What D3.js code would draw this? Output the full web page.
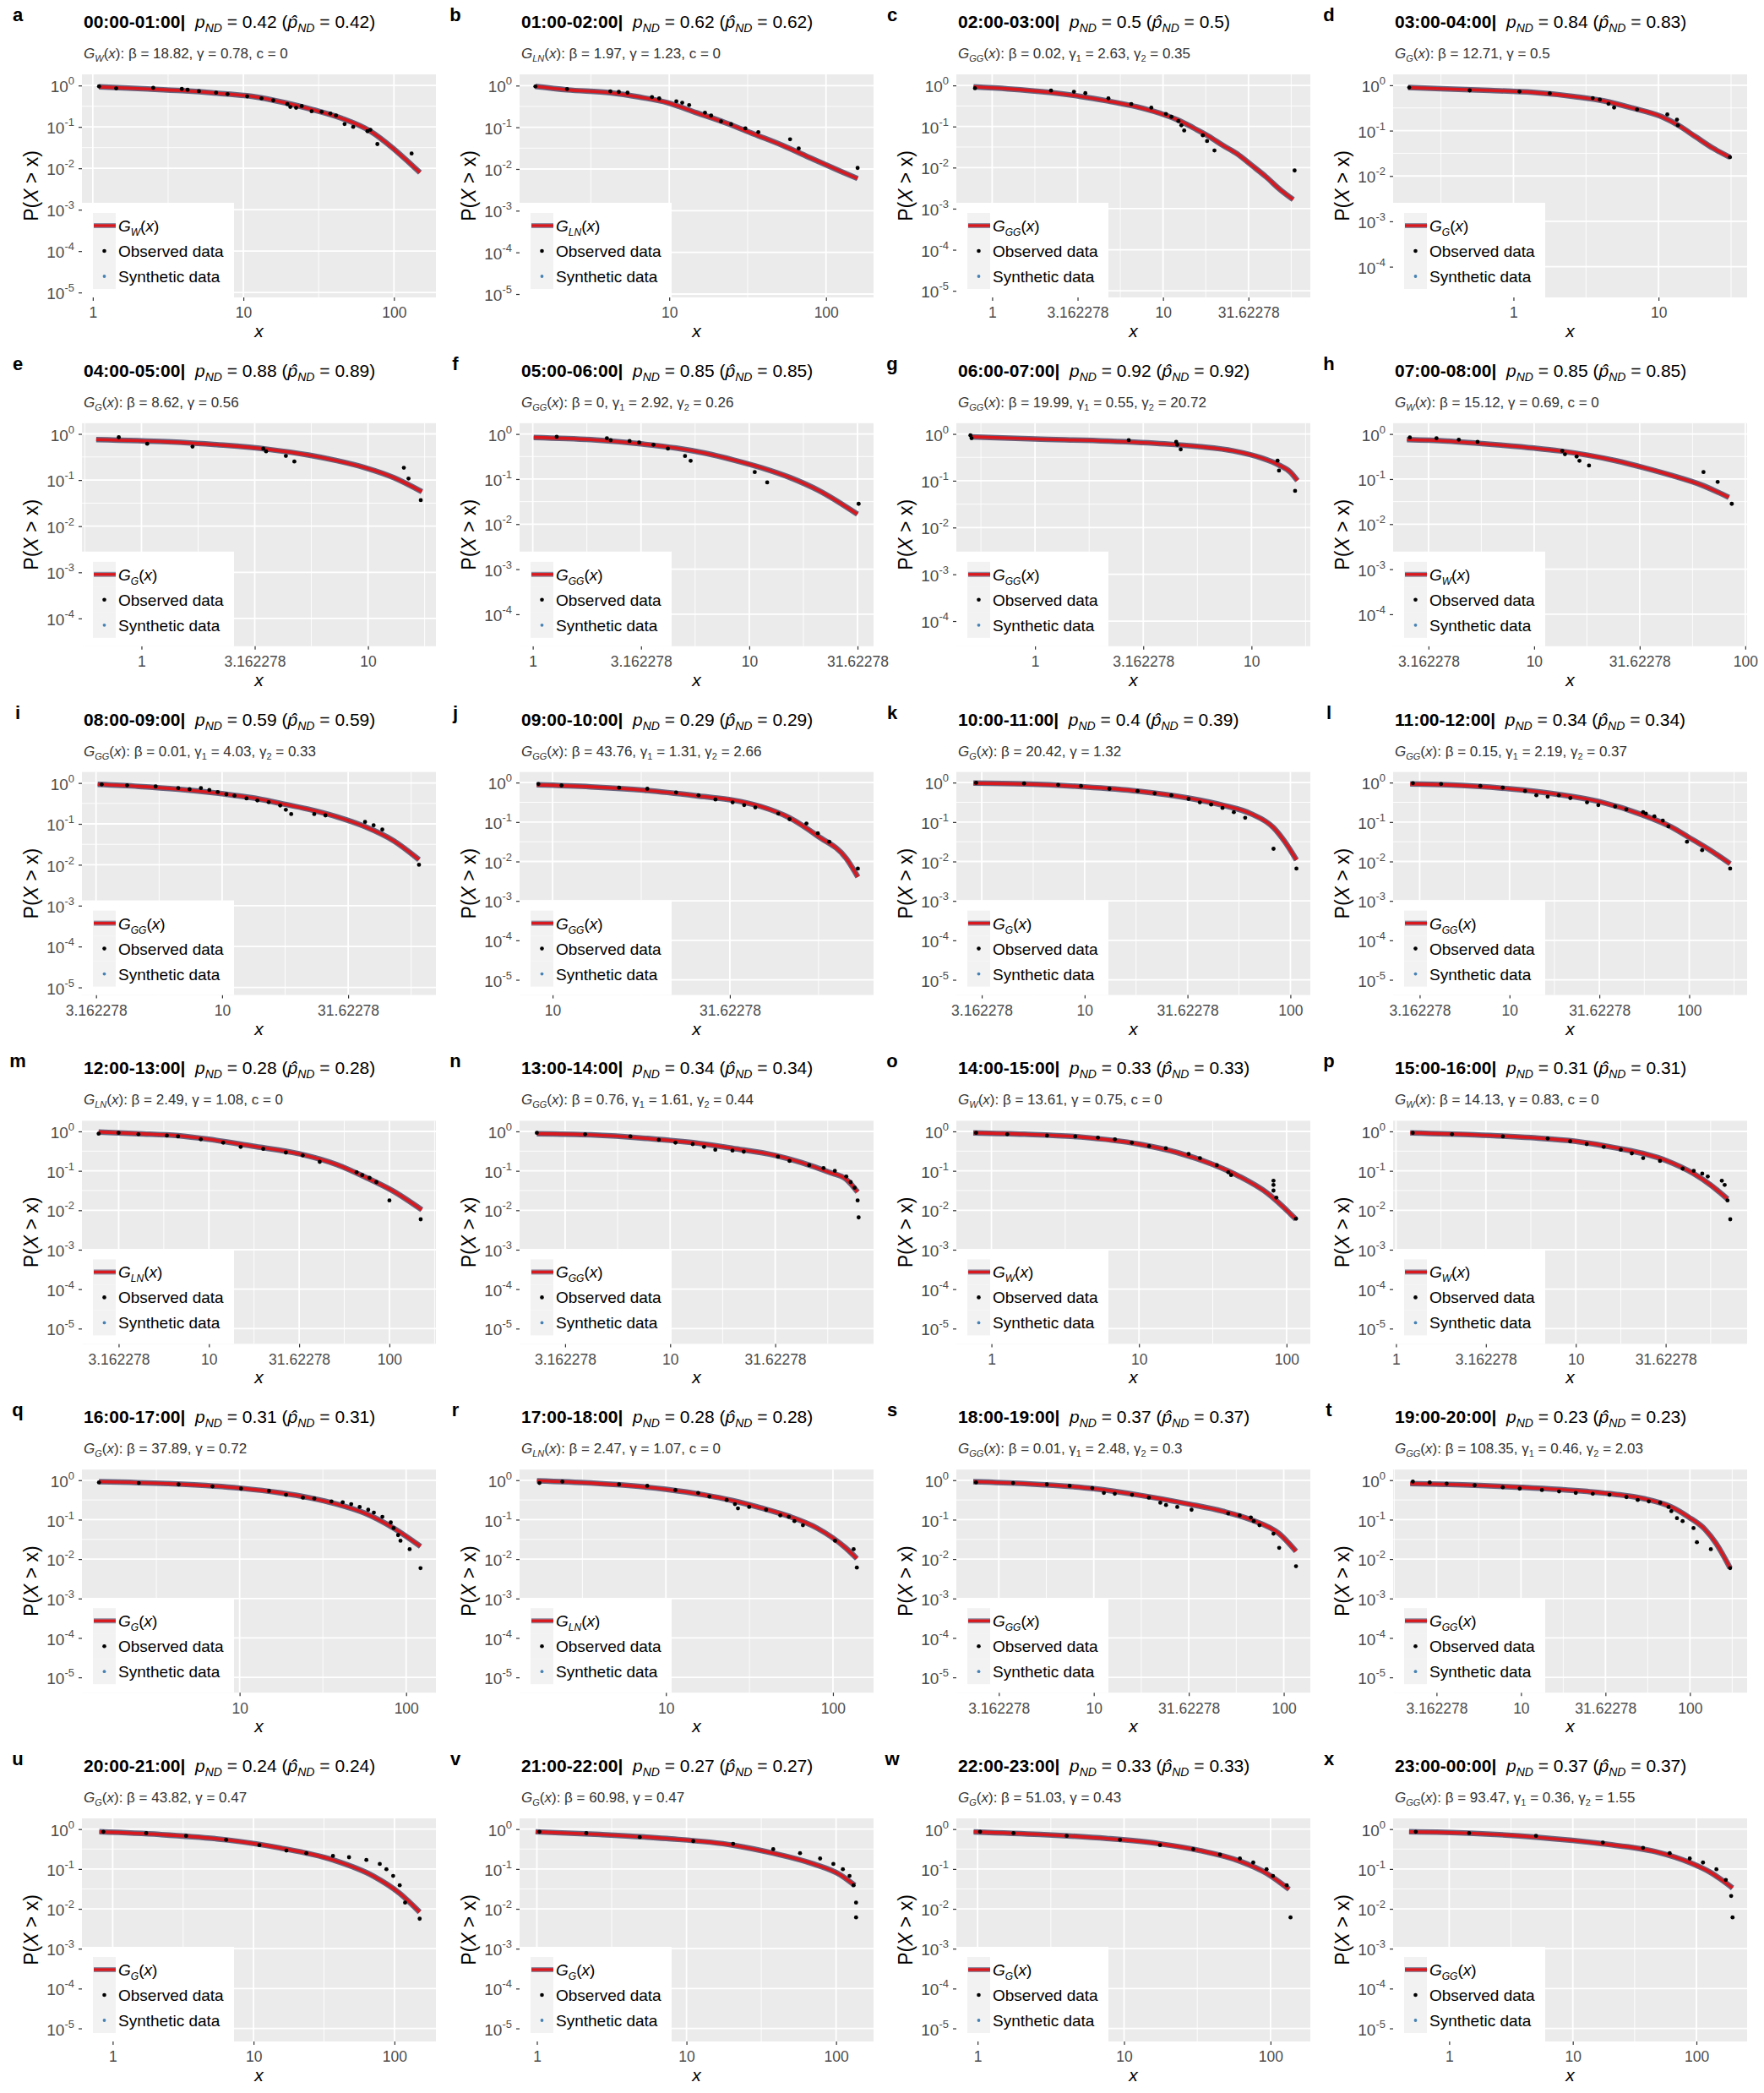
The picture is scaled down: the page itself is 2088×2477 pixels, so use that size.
<!DOCTYPE html>
<html>
<head>
<meta charset="utf-8">
<script src="https://cdn.jsdelivr.net/npm/d3@7"></script>
<style>
  body { margin: 0; background: #fff; }
  text { font-family: "Liberation Sans", Arial, Helvetica, sans-serif; }
</style>
</head>
<body>
<div id="chart"></div>
<script>
var svgWidth = 2088;
var svgHeight = 2477;

// panel labels and headers
var letters = ["a","b","c","d","e","f","g","h","i","j","k","l","m","n","o","p","q","r","s","t","u","v","w","x"];
var hours = ["00:00-01:00","01:00-02:00","02:00-03:00","03:00-04:00","04:00-05:00","05:00-06:00",
  "06:00-07:00","07:00-08:00","08:00-09:00","09:00-10:00","10:00-11:00","11:00-12:00",
  "12:00-13:00","13:00-14:00","14:00-15:00","15:00-16:00","16:00-17:00","17:00-18:00",
  "18:00-19:00","19:00-20:00","20:00-21:00","21:00-22:00","22:00-23:00","23:00-00:00"];
var pND  = [0.42,0.62,0.5,0.84,0.88,0.85,0.92,0.85,0.59,0.29,0.4,0.34,0.28,0.34,0.33,0.31,0.31,0.28,0.37,0.23,0.24,0.27,0.33,0.37];
var pHat = [0.42,0.62,0.5,0.83,0.89,0.85,0.92,0.85,0.59,0.29,0.39,0.34,0.28,0.34,0.33,0.31,0.31,0.28,0.37,0.23,0.24,0.27,0.33,0.37];
var models = ["W","LN","GG","G","G","GG","GG","W","GG","GG","G","GG","LN","GG","W","W","G","LN","GG","GG","G","G","G","GG"];
var betas = ["18.82","1.97","0.02","12.71","8.62","0","19.99","15.12","0.01","43.76","20.42","0.15","2.49","0.76","13.61","14.13","37.89","2.47","0.01","108.35","43.82","60.98","51.03","93.47"];
var gammas1 = ["0.78","1.23","2.63","0.5","0.56","2.92","0.55","0.69","4.03","1.31","1.32","2.19","1.08","1.61","0.75","0.83","0.72","1.07","2.48","0.46","0.47","0.47","0.43","0.36"];
var gammas2 = [null,null,"0.35",null,null,"0.26","20.72",null,"0.33","2.66",null,"0.37",null,"0.44",null,null,null,null,"0.3","2.03",null,null,null,"1.55"];
var cParam = ["0","0",null,null,null,null,null,"0",null,null,null,null,"0",null,"0","0",null,"0",null,null,null,null,null,null];

// axis ticks and limits
var xTicks = [
  [1,10,100],[10,100],[1,3.162278,10,31.62278],[1,10],
  [1,3.162278,10],[1,3.162278,10,31.62278],[1,3.162278,10],[3.162278,10,31.62278,100],
  [3.162278,10,31.62278],[10,31.62278],[3.162278,10,31.62278,100],[3.162278,10,31.62278,100],
  [3.162278,10,31.62278,100],[3.162278,10,31.62278],[1,10,100],[1,3.162278,10,31.62278],
  [10,100],[10,100],[3.162278,10,31.62278,100],[3.162278,10,31.62278,100],
  [1,10,100],[1,10,100],[1,10,100],[1,10,100]];
var xLimits = [
  [0.847,190],[1.11,201],[0.617,72.8],[0.148,40.8],
  [0.546,19.95],[0.869,37.5],[0.433,18.7],[2.15,102],
  [2.78,70.5],[8.07,80.4],[2.38,125],[2.25,210],
  [1.98,181],[1.92,92.9],[0.578,145],[0.964,89.7],
  [1.13,151],[1.33,175],[1.89,138],[1.75,218],
  [0.605,197],[0.766,178],[0.716,187],[0.352,257]];
var yLimits = [
  [7.6e-6,1.86],[8.3e-6,1.86],[6.9e-6,1.86],[2.1e-5,1.74],
  [2.5e-5,1.71],[1.95e-5,1.74],[2.9e-5,1.70],[1.95e-5,1.74],
  [6.5e-6,1.86],[4.1e-6,1.86],[4.1e-6,1.86],[4.1e-6,1.86],
  [4.1e-6,1.86],[4.1e-6,1.86],[4.1e-6,1.86],[4.1e-6,1.86],
  [4.1e-6,1.86],[4.1e-6,1.86],[4.1e-6,1.86],[4.1e-6,1.86],
  [4.7e-6,1.86],[4.7e-6,1.86],[4.7e-6,1.86],[4.7e-6,1.86]];

// fitted curves [x, P(X > x)]
var fitA = [[1.10,0.925],[2.31,0.826],[3.90,0.752],[7.85,0.621],[12.1,0.530],[18.8,0.385],[29.1,0.259],[45.0,0.161],[69.7,0.0789],[98.6,0.0304],[123,0.0149],[149,0.0079]];
var fitB = [[1.40,0.953],[2.23,0.789],[4.21,0.674],[6.41,0.532],[9.79,0.388],[14.9,0.224],[22.8,0.129],[34.8,0.0685],[53.1,0.0365],[80.9,0.0179],[124,0.0088],[159,0.0059]];
var fitC = [[0.778,0.923],[1.24,0.826],[2.21,0.670],[3.25,0.545],[4.79,0.415],[7.03,0.301],[10.4,0.187],[12.6,0.136],[15.2,0.0908],[18.5,0.0581],[22.4,0.0348],[27.2,0.0215],[33.0,0.0114],[40.0,0.0060],[48.5,0.0029],[57.8,0.00167]];
var fitD = [[0.188,0.891],[0.347,0.828],[0.685,0.770],[1.36,0.696],[2.68,0.560],[4.22,0.451],[6.64,0.313],[10.5,0.203],[13.7,0.131],[18.0,0.0734],[23.7,0.0411],[31.1,0.0259]];
var fitE = [[0.631,0.755],[1.30,0.675],[2.30,0.570],[3.65,0.461],[5.46,0.348],[7.29,0.263],[9.72,0.185],[13.0,0.113],[17.3,0.056]];
var fitF = [[1.01,0.841],[1.85,0.750],[3.16,0.604],[4.60,0.487],[6.24,0.376],[8.44,0.266],[11.4,0.178],[15.5,0.107],[20.9,0.056],[31.6,0.0166]];
var fitG = [[0.503,0.871],[1.0,0.779],[2.16,0.707],[3.97,0.615],[5.71,0.536],[8.24,0.435],[11.1,0.308],[13.4,0.217],[15.1,0.154],[16.3,0.101]];
var fitH = [[2.50,0.750],[3.85,0.698],[7.13,0.562],[10.0,0.487],[13.2,0.422],[17.9,0.340],[24.4,0.255],[33.2,0.178],[45.2,0.119],[61.5,0.075],[83.6,0.0393]];
var fitI = [[3.21,0.925],[4.67,0.826],[6.70,0.705],[9.98,0.547],[13.1,0.438],[17.0,0.319],[22.0,0.228],[28.5,0.149],[36.9,0.0853],[47.9,0.0386],[60.4,0.0133]];
var fitJ = [[9.02,0.877],[12.8,0.782],[18.5,0.631],[26.8,0.440],[32.2,0.361],[38.7,0.247],[46.6,0.128],[56.0,0.044],[67.4,0.0118],[72.6,0.00405]];
var fitK = [[2.88,0.968],[5.08,0.921],[10.0,0.782],[18.1,0.611],[32.0,0.405],[46.8,0.268],[64.1,0.164],[82.8,0.072],[94.0,0.0316],[107,0.0109]];
var fitL = [[2.80,0.921],[4.47,0.877],[10.0,0.697],[18.8,0.501],[31.6,0.330],[55.4,0.150],[79.4,0.075],[98.6,0.0420],[131,0.0193],[169,0.00877]];
var fitM = [[2.45,0.968],[4.07,0.877],[6.75,0.782],[10.0,0.631],[17.3,0.425],[31.9,0.268],[51.1,0.144],[73.3,0.0697],[105,0.0306],[151,0.0103]];
var fitN = [[2.32,0.877],[4.19,0.821],[7.80,0.662],[14.5,0.477],[19.8,0.373],[31.6,0.247],[41.9,0.164],[57.1,0.092],[68.9,0.061],[78.0,0.0291]];
var fitO = [[0.753,0.921],[1.67,0.849],[4.04,0.72],[10.0,0.477],[18.2,0.291],[30.8,0.151],[48.0,0.072],[74.6,0.0268],[116,0.0059]];
var fitP = [[1.20,0.921],[2.74,0.821],[5.62,0.697],[10.0,0.562],[16.6,0.385],[31.6,0.185],[45.3,0.085],[56.2,0.044],[69.8,0.0193]];
var fitQ = [[1.43,0.921],[3.67,0.821],[10.0,0.631],[17.6,0.477],[26.0,0.361],[38.5,0.247],[56.9,0.144],[84.1,0.061],[122,0.021]];
var fitR = [[1.69,0.968],[3.54,0.849],[10.0,0.59],[16.9,0.425],[24.9,0.306],[36.8,0.2],[54.4,0.122],[80.4,0.061],[119,0.0193],[139,0.0103]];
var fitS = [[2.32,0.921],[4.31,0.821],[10.0,0.611],[17.0,0.425],[31.8,0.247],[47.6,0.164],[67.1,0.1],[94.6,0.044],[116,0.0158]];
var fitT = [[2.21,0.821],[5.32,0.744],[10.0,0.662],[24.6,0.518],[36.1,0.44],[53.0,0.343],[77.6,0.21],[97.7,0.118],[123,0.0562],[143,0.0247],[173,0.0059]];
var fitU = [[0.804,0.857],[2.15,0.734],[6.39,0.539],[15.3,0.339],[36.6,0.169],[70.5,0.067],[109,0.0245],[151,0.0083]];
var fitV = [[0.98,0.857],[2.63,0.734],[7.35,0.582],[20.5,0.396],[38.0,0.249],[70.5,0.134],[106,0.0723],[133,0.039]];
var fitW = [[0.94,0.857],[2.67,0.734],[7.62,0.582],[17.6,0.428],[33.0,0.290],[61.8,0.157],[94.0,0.078],[134,0.0309]];
var fitX = [[0.474,0.857],[1.45,0.793],[5.04,0.629],[17.5,0.428],[47.4,0.269],[88.3,0.145],[128,0.0843],[196,0.0334]];

// observed data points [x, P(X > x)]
var obsA = [[1.10,0.953],[1.43,0.853],[2.52,0.881],[3.90,0.826],[4.26,0.788],[5.07,0.728],[6.59,0.673],[7.85,0.621],[10.6,0.547],[13.2,0.490],[15.8,0.438],[19.6,0.356],[20.5,0.304],[22.4,0.290],[24.4,0.319],[28.4,0.239],[33.1,0.232],[37.8,0.211],[41.2,0.189],[47.0,0.117],[53.6,0.100],[66.7,0.0789],[69.7,0.0853],[77.6,0.0385],[131,0.0228]];
var obsB = [[1.40,0.953],[2.23,0.828],[4.21,0.730],[4.77,0.707],[5.42,0.674],[7.76,0.532],[8.63,0.492],[11.1,0.420],[12.1,0.388],[13.4,0.342],[16.9,0.224],[18.5,0.191],[21.4,0.139],[24.8,0.119],[30.6,0.094],[37.0,0.0766],[59.0,0.0516],[67.0,0.0311],[159,0.0106]];
var obsC = [[0.793,0.853],[2.21,0.750],[3.01,0.703],[3.51,0.649],[4.79,0.487],[6.52,0.354],[8.54,0.287],[10.4,0.202],[11.2,0.172],[12.3,0.136],[12.8,0.107],[13.3,0.080],[17.1,0.061],[18.1,0.0443],[20.0,0.0261],[58.9,0.0085]];
var obsD = [[0.191,0.891],[0.499,0.770],[1.10,0.727],[1.78,0.666],[3.52,0.521],[3.94,0.484],[4.52,0.390],[4.94,0.323],[7.11,0.292],[11.5,0.228],[13.4,0.175],[13.6,0.131],[31.1,0.0259]];
var obsE = [[0.794,0.845],[1.06,0.611],[1.68,0.531],[3.45,0.481],[3.55,0.418],[4.34,0.334],[4.73,0.252],[14.4,0.185],[15.1,0.108],[17.1,0.0367]];
var obsF = [[1.29,0.866],[2.20,0.806],[2.29,0.729],[2.80,0.698],[3.10,0.649],[3.61,0.579],[4.21,0.473],[5.05,0.325],[5.36,0.255],[10.6,0.143],[12.1,0.0841],[32.0,0.0282]];
var obsG = [[0.503,0.933],[0.509,0.812],[2.71,0.737],[4.49,0.678],[4.54,0.590],[4.71,0.467],[13.2,0.268],[13.4,0.165],[15.9,0.0607]];
var obsH = [[2.58,0.841],[3.45,0.806],[4.40,0.750],[5.40,0.668],[13.6,0.422],[14.0,0.355],[15.9,0.316],[16.4,0.255],[18.2,0.200],[63.4,0.143],[74.0,0.0866],[86.3,0.0282]];
var obsI = [[3.33,0.925],[4.20,0.881],[5.45,0.826],[6.70,0.752],[7.43,0.705],[8.24,0.752],[8.90,0.673],[9.61,0.601],[10.4,0.530],[11.2,0.490],[12.5,0.418],[13.8,0.373],[15.3,0.340],[17.0,0.281],[17.9,0.221],[18.8,0.174],[23.2,0.174],[25.7,0.161],[36.9,0.112],[39.9,0.0925],[43.2,0.0728],[60.4,0.0100]];
var obsJ = [[9.12,0.921],[10.6,0.849],[15.4,0.744],[18.5,0.697],[22.3,0.562],[25.8,0.477],[28.8,0.373],[32.2,0.316],[34.7,0.268],[37.3,0.235],[43.3,0.164],[46.6,0.118],[52.0,0.092],[56.0,0.0518],[60.3,0.0316],[72.6,0.0066]];
var obsK = [[2.97,0.99],[5.08,0.953],[7.44,0.877],[9.60,0.821],[13.2,0.697],[18.1,0.611],[21.9,0.536],[26.4,0.477],[32.0,0.385],[36.3,0.316],[41.2,0.277],[46.8,0.228],[53.1,0.178],[60.3,0.128],[82.8,0.021],[107,0.0066]];
var obsL = [[2.90,0.968],[4.16,0.921],[6.88,0.821],[9.17,0.744],[12.2,0.611],[14.1,0.477],[16.3,0.440],[18.8,0.477],[21.8,0.405],[27.0,0.316],[31.2,0.268],[38.7,0.247],[44.7,0.21],[55.4,0.178],[57.4,0.164],[64.0,0.139],[71.3,0.109],[76.6,0.078],[97.2,0.0316],[118,0.0193],[169,0.0066]];
var obsM = [[2.45,0.877],[3.16,0.921],[4.07,0.849],[5.85,0.782],[6.75,0.744],[9.02,0.631],[12.0,0.518],[15.0,0.405],[20.0,0.361],[26.7,0.291],[33.1,0.247],[41.1,0.169],[65.8,0.092],[70.7,0.078],[77.6,0.0663],[84.7,0.0518],[100,0.0178],[149,0.0059]];
var obsN = [[2.32,0.921],[3.94,0.849],[6.47,0.744],[8.83,0.611],[10.6,0.518],[12.8,0.477],[14.5,0.405],[16.4,0.343],[19.8,0.327],[22.4,0.306],[32.6,0.228],[37.0,0.178],[45.9,0.139],[53.7,0.118],[60.8,0.1],[68.9,0.072],[72.3,0.0518],[75.5,0.0373],[78.0,0.0178],[78.9,0.0066]];
var obsO = [[0.787,0.921],[1.28,0.849],[2.38,0.782],[3.70,0.744],[5.27,0.697],[6.87,0.631],[8.95,0.518],[11.7,0.425],[15.2,0.373],[21.7,0.268],[25.9,0.21],[33.7,0.139],[40.3,0.092],[42.1,0.078],[81.6,0.0562],[81.6,0.044],[81.6,0.0316],[85.3,0.021],[116,0.0061]];
var obsP = [[1.24,0.921],[2.05,0.849],[3.93,0.744],[6.98,0.662],[9.31,0.562],[11.5,0.477],[14.3,0.405],[17.8,0.343],[20.5,0.277],[23.7,0.21],[29.4,0.178],[39.3,0.114],[45.3,0.1],[50.5,0.0849],[54.2,0.072],[64.9,0.0562],[67.3,0.044],[69.8,0.0178],[72.3,0.0059]];
var obsQ = [[1.43,0.877],[2.48,0.849],[4.30,0.782],[6.87,0.697],[10.2,0.611],[15.0,0.536],[19.0,0.425],[24.0,0.361],[28.1,0.343],[35.6,0.291],[41.6,0.277],[46.8,0.247],[52.6,0.21],[59.2,0.178],[64.0,0.151],[72.0,0.118],[80.9,0.0849],[84.1,0.061],[89.5,0.0405],[92.5,0.0291],[105,0.0178],[122,0.0059]];
var obsR = [[1.75,0.849],[2.40,0.921],[5.24,0.782],[7.73,0.72],[11.4,0.562],[15.6,0.477],[18.2,0.385],[23.1,0.316],[25.9,0.247],[27.0,0.193],[31.5,0.21],[39.8,0.178],[48.4,0.128],[54.4,0.118],[58.8,0.092],[66.1,0.072],[103,0.0291],[133,0.0178],[139,0.0061]];
var obsS = [[2.40,0.877],[3.76,0.849],[5.66,0.782],[7.46,0.72],[9.82,0.631],[11.3,0.477],[12.9,0.454],[15.9,0.425],[19.5,0.361],[22.4,0.268],[24.0,0.235],[27.5,0.21],[32.7,0.178],[51.0,0.144],[58.6,0.128],[67.1,0.114],[69.5,0.092],[74.5,0.072],[88.3,0.044],[94.6,0.0193],[116,0.0066]];
var obsT = [[2.29,0.921],[2.88,0.877],[3.63,0.821],[5.32,0.744],[7.80,0.662],[9.82,0.611],[13.3,0.562],[16.8,0.518],[21.1,0.477],[26.6,0.454],[33.4,0.425],[42.1,0.373],[49.1,0.316],[57.1,0.291],[66.7,0.268],[74.7,0.21],[77.6,0.164],[83.8,0.109],[90.5,0.092],[105,0.061],[110,0.0268],[133,0.0178],[173,0.0059]];
var obsU = [[0.859,0.857],[1.73,0.793],[3.32,0.679],[6.39,0.539],[11.0,0.396],[17.1,0.290],[23.7,0.249],[36.6,0.213],[47.6,0.197],[63.2,0.169],[78.7,0.134],[87.7,0.0985],[97.9,0.067],[109,0.039],[119,0.0143],[151,0.00565]];
var obsV = [[1.04,0.857],[2.14,0.793],[4.87,0.629],[11.1,0.499],[20.5,0.428],[38.0,0.314],[57.4,0.249],[78.2,0.183],[95.9,0.134],[111,0.0985],[123,0.067],[131,0.039],[136,0.0143],[136,0.0061]];
var obsW = [[1.04,0.857],[1.76,0.793],[4.06,0.679],[9.39,0.539],[17.6,0.396],[29.7,0.314],[45.2,0.230],[61.8,0.183],[76.2,0.145],[94.0,0.0985],[104,0.067],[129,0.039],[137,0.0061]];
var obsX = [[0.537,0.857],[1.45,0.793],[5.04,0.679],[17.5,0.461],[37.0,0.339],[60.8,0.249],[88.3,0.183],[113,0.145],[145,0.0985],[173,0.0531],[191,0.021],[196,0.0061]];

var fits = [fitA,fitB,fitC,fitD,fitE,fitF,fitG,fitH,fitI,fitJ,fitK,fitL,fitM,fitN,fitO,fitP,fitQ,fitR,fitS,fitT,fitU,fitV,fitW,fitX];
var observed = [obsA,obsB,obsC,obsD,obsE,obsF,obsG,obsH,obsI,obsJ,obsK,obsL,obsM,obsN,obsO,obsP,obsQ,obsR,obsS,obsT,obsU,obsV,obsW,obsX];

// layout
var colX = [0, 518, 1035, 1552];
var rowH = 412.8;
var haloColor = "#4f4a6a";
var lineColor = "#d9181e";

var svg = d3.select("#chart")
  .append("svg")
  .attr("width", svgWidth)
  .attr("height", svgHeight);

svg.append("rect").attr("width", svgWidth).attr("height", svgHeight).attr("fill", "#fff");

// italic G with model subscript and (x)
function addG(txt, model, size, subSize, shift) {
  txt.append("tspan").style("font-style", "italic").text("G");
  txt.append("tspan").style("font-style", "italic").style("font-size", subSize + "px").attr("dy", shift).text(model);
  txt.append("tspan").attr("dy", -shift).text("(");
  txt.append("tspan").style("font-style", "italic").text("x");
  txt.append("tspan").text(")");
}

function minorBreaks(ticks, lo, hi) {
  var r = ticks[1] / ticks[0];
  var ext = [ticks[0] / r].concat(ticks, [ticks[ticks.length - 1] * r]);
  var out = [];
  for (var k = 0; k < ext.length - 1; k++) {
    var m = Math.sqrt(ext[k] * ext[k + 1]);
    if (m > lo && m < hi) out.push(m);
  }
  return out;
}

fits.forEach(function(fit, i) {
  var col = i % 4, row = Math.floor(i / 4);
  var x0 = colX[col], y0 = row * rowH;
  var left = x0 + 97, right = x0 + 516, top = y0 + 88, bottom = y0 + 352;

  var xScale = d3.scaleLog().domain(xLimits[i]).range([left, right]);
  var yScale = d3.scaleLog().domain(yLimits[i]).range([bottom, top]);

  var lowExp = Math.ceil(Math.log10(yLimits[i][0]));
  var yMajor = d3.range(0, lowExp - 1, -1).map(function(e) { return Math.pow(10, e); });
  var yMinor = minorBreaks([1, 0.1], yLimits[i][0], yLimits[i][1]);
  var xMajor = xTicks[i].filter(function(t) { return t >= xLimits[i][0] && t <= xLimits[i][1]; });
  var xMinor = minorBreaks(xTicks[i], xLimits[i][0], xLimits[i][1]);

  var g = svg.append("g");

  // panel background and grid
  g.append("rect").attr("x", left).attr("y", top).attr("width", right - left).attr("height", bottom - top).attr("fill", "#ebebeb");
  g.selectAll(".ymin").data(yMinor).enter().append("line")
    .attr("x1", left).attr("x2", right).attr("y1", d => yScale(d)).attr("y2", d => yScale(d))
    .attr("stroke", "#fff").attr("stroke-width", 0.9);
  g.selectAll(".xmin").data(xMinor).enter().append("line")
    .attr("y1", top).attr("y2", bottom).attr("x1", d => xScale(d)).attr("x2", d => xScale(d))
    .attr("stroke", "#fff").attr("stroke-width", 0.9);
  g.selectAll(".ymaj").data(yMajor).enter().append("line")
    .attr("x1", left).attr("x2", right).attr("y1", d => yScale(d)).attr("y2", d => yScale(d))
    .attr("stroke", "#fff").attr("stroke-width", 1.8);
  g.selectAll(".xmaj").data(xMajor).enter().append("line")
    .attr("y1", top).attr("y2", bottom).attr("x1", d => xScale(d)).attr("x2", d => xScale(d))
    .attr("stroke", "#fff").attr("stroke-width", 1.8);

  // clip
  var clipId = "clip" + i;
  svg.append("clipPath").attr("id", clipId).append("rect")
    .attr("x", left).attr("y", top).attr("width", right - left).attr("height", bottom - top);
  var plot = g.append("g").attr("clip-path", "url(#" + clipId + ")");

  var line = d3.line()
    .x(d => xScale(d[0]))
    .y(d => yScale(d[1]))
    .curve(d3.curveMonotoneX);

  plot.append("path").datum(fit).attr("d", line)
    .attr("fill", "none").attr("stroke", haloColor).attr("stroke-opacity", 0.85).attr("stroke-width", 6.5);
  plot.append("path").datum(fit).attr("d", line)
    .attr("fill", "none").attr("stroke", lineColor).attr("stroke-width", 3.6);

  plot.selectAll("circle").data(observed[i]).enter().append("circle")
    .attr("cx", d => xScale(d[0]))
    .attr("cy", d => yScale(d[1]))
    .attr("r", 2.4)
    .attr("fill", "#000");

  // axes
  var bottomAxis = d3.axisBottom(xScale).tickValues(xMajor).tickFormat(d => String(d)).tickSize(4).tickPadding(8);
  var xAxisG = g.append("g").attr("transform", `translate(0, ${bottom})`).call(bottomAxis);
  xAxisG.attr("font-size", null).attr("font-family", null);
  xAxisG.select(".domain").remove();
  xAxisG.selectAll(".tick line").attr("stroke", "#333").attr("stroke-width", 1.2);
  xAxisG.selectAll(".tick text").attr("fill", "#4d4d4d").style("font-size", "17.5px");

  var leftAxis = d3.axisLeft(yScale).tickValues(yMajor).tickFormat(() => "").tickSize(4).tickPadding(5);
  var yAxisG = g.append("g").attr("transform", `translate(${left}, 0)`).call(leftAxis);
  yAxisG.attr("font-size", null).attr("font-family", null);
  yAxisG.select(".domain").remove();
  yAxisG.selectAll(".tick line").attr("stroke", "#333").attr("stroke-width", 1.2);
  yAxisG.selectAll(".tick text").attr("fill", "#4d4d4d").style("font-size", "19px").attr("dy", "0.4em")
    .each(function(d) {
      var t = d3.select(this);
      t.append("tspan").text("10");
      t.append("tspan").style("font-size", "13px").attr("dy", -9).text(String(Math.round(Math.log10(d))));
    });

  // legend
  var lg = g.append("g").attr("transform", `translate(${left}, ${top + 152})`);
  lg.append("rect").attr("width", 180).attr("height", bottom - top - 152).attr("fill", "#fff");
  [0, 1, 2].forEach(function(k) {
    lg.append("rect").attr("x", 13).attr("y", 12 + k * 30).attr("width", 27).attr("height", 30).attr("fill", "#f2f2f2");
  });
  lg.append("line").attr("x1", 14).attr("x2", 40).attr("y1", 27).attr("y2", 27)
    .attr("stroke", haloColor).attr("stroke-opacity", 0.6).attr("stroke-width", 6);
  lg.append("line").attr("x1", 14).attr("x2", 40).attr("y1", 27).attr("y2", 27)
    .attr("stroke", lineColor).attr("stroke-width", 3.4);
  lg.append("circle").attr("cx", 26.5).attr("cy", 57).attr("r", 2.3).attr("fill", "#000");
  lg.append("circle").attr("cx", 26.5).attr("cy", 87).attr("r", 1.9).attr("fill", "steelblue");
  var lt = lg.append("text").attr("x", 43).attr("y", 34).style("font-size", "19px").attr("fill", "#000");
  addG(lt, models[i], 19, 12, 5);
  lg.append("text").attr("x", 43).attr("y", 64).style("font-size", "19px").text("Observed data");
  lg.append("text").attr("x", 43).attr("y", 94).style("font-size", "19px").text("Synthetic data");

  // axis titles
  var yt = g.append("text")
    .attr("transform", `translate(${x0 + 45}, ${(top + bottom) / 2}) rotate(-90)`)
    .attr("text-anchor", "middle")
    .style("font-size", "23px").style("white-space", "pre");
  yt.append("tspan").text("P(");
  yt.append("tspan").style("font-style", "italic").text("X");
  yt.append("tspan").text(" > x)");

  g.append("text")
    .attr("x", (left + right) / 2).attr("y", bottom + 47)
    .attr("text-anchor", "middle")
    .style("font-size", "21px").style("font-style", "italic")
    .text("x");

  // panel letter
  g.append("text").attr("x", x0 + 21).attr("y", y0 + 25).attr("text-anchor", "middle")
    .style("font-size", "22px").style("font-weight", "bold").text(letters[i]);

  // title
  var title = g.append("text").attr("x", left + 2).attr("y", y0 + 33)
    .style("font-size", "21px").style("white-space", "pre").attr("fill", "#000");
  title.append("tspan").style("font-weight", "bold").text(hours[i] + "|");
  title.append("tspan").text("  ");
  title.append("tspan").style("font-style", "italic").text("p");
  title.append("tspan").style("font-style", "italic").style("font-size", "14px").attr("dy", 5).text("ND");
  title.append("tspan").attr("dy", -5).text(" = " + pND[i] + " (");
  title.append("tspan").style("font-style", "italic").text("p\u0302");
  title.append("tspan").style("font-style", "italic").style("font-size", "14px").attr("dy", 5).text("ND");
  title.append("tspan").attr("dy", -5).text(" = " + pHat[i] + ")");

  // subtitle with parameters
  var sub = g.append("text").attr("x", left + 2).attr("y", y0 + 69)
    .style("font-size", "17px").style("white-space", "pre").attr("fill", "#333");
  addG(sub, models[i], 17, 11, 4);
  sub.append("tspan").text(": \u03b2 = " + betas[i]);
  if (gammas2[i] !== null) {
    sub.append("tspan").text(", \u03b3");
    sub.append("tspan").style("font-size", "11px").attr("dy", 4).text("1");
    sub.append("tspan").attr("dy", -4).text(" = " + gammas1[i] + ", \u03b3");
    sub.append("tspan").style("font-size", "11px").attr("dy", 4).text("2");
    sub.append("tspan").attr("dy", -4).text(" = " + gammas2[i]);
  } else {
    sub.append("tspan").text(", \u03b3 = " + gammas1[i] + (cParam[i] !== null ? ", c = " + cParam[i] : ""));
  }
});
</script>
</body>
</html>
